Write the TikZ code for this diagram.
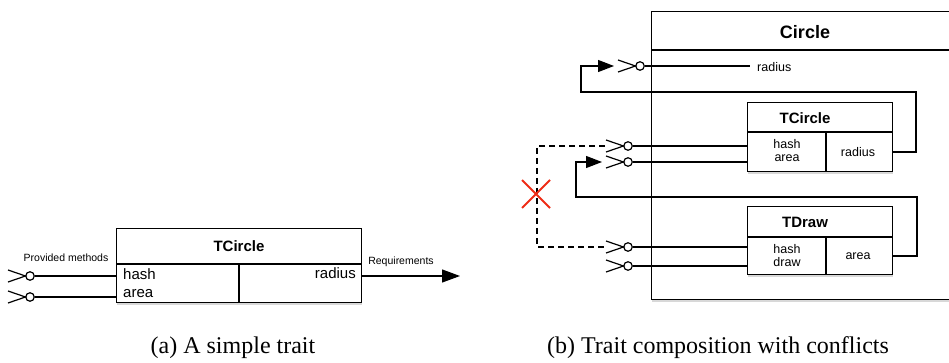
\documentclass[tikz,border=0pt]{standalone}
\usepackage{fontspec}
\setmainfont{Liberation Serif}
\setsansfont{Liberation Sans}
\usetikzlibrary{arrows.meta,shadows}
\definecolor{xred}{RGB}{238,44,22}
\tikzset{
  box/.style={draw, line width=1.3pt, fill=white, anchor=north west, inner sep=0pt,
    drop shadow={shadow xshift=0.8pt, shadow yshift=-2pt, fill=black!30, opacity=0.5}},
  wire/.style={line width=1.2pt},
  port/.style={circle, draw, fill=white, line width=1.2pt, inner sep=0pt, minimum size=8.5pt},
  titletxt/.style={font=\sffamily\bfseries\fontsize{15}{17}\selectfont},
  lbl/.style={font=\sffamily\fontsize{15}{17}\selectfont, inner sep=0pt},
  slbl/.style={font=\sffamily\fontsize{12.5}{14}\selectfont, inner sep=0pt, align=center},
  smalltxt/.style={font=\sffamily\fontsize{10.5}{12}\selectfont, inner sep=0pt},
  captxt/.style={font=\fontsize{24}{28}\selectfont, inner sep=0pt},
  socket/.pic={\draw[line width=1.2pt] (-22,-6) -- (-4.5,0) -- (-22,6);},
  tri/.style={-{Triangle[length=16pt,width=12pt]}},
}
\begin{document}
\begin{tikzpicture}[x=1pt,y=-1pt]
\useasboundingbox (0,0) rectangle (949,363);

% ---------- (a) ----------
\node[box, minimum width=245pt, minimum height=74pt] (tca) at (116,228) {};
\draw[line width=1.3pt] (116,264) -- (361,264);
\draw[line width=1.3pt] (239,264) -- (239,302);
\node[titletxt] (tcat) at (239,246) {TCircle};
\node[lbl, anchor=west] (ahash) at (123,274) {hash};
\node[lbl, anchor=west] (aarea) at (123,294) {area};
\node[lbl, anchor=east] (arad) at (356,273) {radius};
\node[smalltxt] (prov) at (66,258) {Provided methods};
\node[smalltxt] (req) at (401,262) {Requirements};

\coordinate (tcahash) at (116,276);
\coordinate (tcaarea) at (116,297);
\coordinate (tcareq) at (361,276);
\coordinate (reqend) at (460,276);
\node[port] (pa1) at (30,276) {};
\node[port] (pa2) at (30,297) {};
\pic at (pa1) {socket};
\pic at (pa2) {socket};
\draw[wire] (pa1) -- (tcahash);
\draw[wire] (pa2) -- (tcaarea);
\draw[wire, -{Triangle[length=18pt,width=13pt]}] (tcareq) -- (reqend);

% ---------- (b) ----------
\node[box, minimum width=330pt, minimum height=288pt] (circ) at (651,11) {};
\draw[line width=1.3pt] (651,50) -- (960,50);
\node[font=\sffamily\bfseries\fontsize{18}{20}\selectfont] (circt) at (805,32) {Circle};

% TCircle inner
\node[box, minimum width=145pt, minimum height=69pt] (tcb) at (747,102) {};
\draw[line width=1.3pt] (747,132) -- (892,132);
\draw[line width=1.3pt] (826,132) -- (826,171);
\node[titletxt] (tcbt) at (805,118) {TCircle};
\node[slbl] (tcbl) at (787,151) {hash\\[-1pt]area};
\node[slbl] (tcbr) at (858,152) {radius};

% TDraw inner
\node[box, minimum width=145pt, minimum height=68pt] (tdb) at (747,206) {};
\draw[line width=1.3pt] (747,237) -- (892,237);
\draw[line width=1.3pt] (826,237) -- (826,274);
\node[titletxt] (tdbt) at (805,222) {TDraw};
\node[slbl] (tdbl) at (787,256) {hash\\[-1pt]draw};
\node[slbl] (tdbr) at (858,256) {area};

% ports
\node[port] (pr) at (640,66) {};
\node[port] (pb1) at (628,146) {};
\node[port] (pb2) at (628,162) {};
\node[port] (pb3) at (628,247) {};
\node[port] (pb4) at (628,266) {};
\pic at (pr) {socket};
\pic at (pb1) {socket};
\pic at (pb2) {socket};
\pic at (pb3) {socket};
\pic at (pb4) {socket};

\node[slbl, anchor=west] (radl) at (757,67) {radius};
\draw[wire] (pr) -- (750,66);

\coordinate (tcbhash) at (747,146);
\coordinate (tcbarea) at (747,162);
\coordinate (tdbhash) at (747,247);
\coordinate (tdbdraw) at (747,266);
\draw[wire] (pb1) -- (tcbhash);
\draw[wire] (pb2) -- (tcbarea);
\draw[wire] (pb3) -- (tdbhash);
\draw[wire] (pb4) -- (tdbdraw);

% loops
\coordinate (tcbrad) at (892,152);
\coordinate (arr1) at (614,66);
\draw[wire, tri] (tcbrad) -- (916,152) -- (916,92) -- (581,92) -- (581,66) -- (arr1);
\coordinate (tdbarea) at (892,256);
\coordinate (arr2) at (602,162);
\draw[wire, tri] (tdbarea) -- (917,256) -- (917,197) -- (576,197) -- (576,162) -- (arr2);

% dashed conflict
\coordinate (d1) at (605,146);
\coordinate (d2) at (605,247);
\draw[wire, dash pattern=on 6pt off 4pt] (d1) -- (537,146) -- (537,247) -- (d2);
\draw[xred, line width=1.8pt] (522,180) -- (550,208) (550,180) -- (522,208);

% captions
\node[captxt] (capa) at (233,348) {(a) A simple trait};
\node[captxt] (capb) at (718,348) {(b) Trait composition with conflicts};
\end{tikzpicture}
\end{document}
